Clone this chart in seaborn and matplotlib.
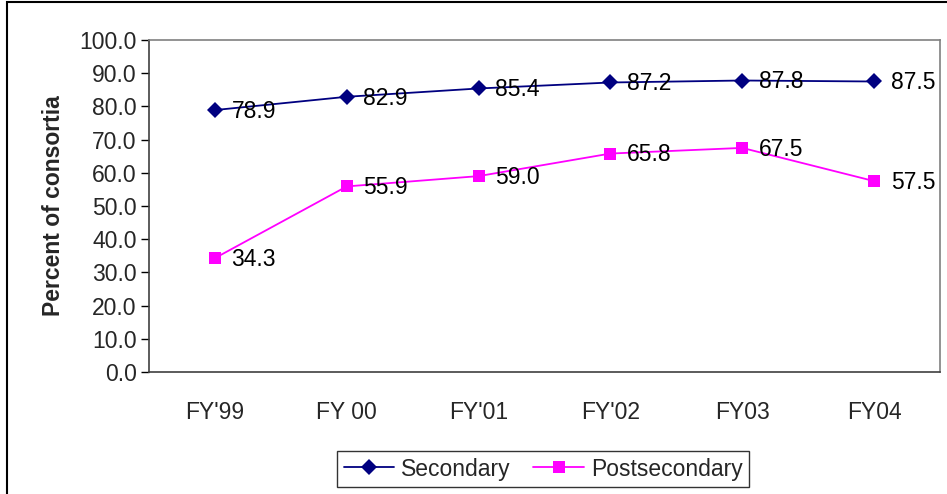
import matplotlib.pyplot as plt
import seaborn as sns
import pandas as pd
from matplotlib.patches import Rectangle

# datos
years = ["FY'99", "FY 00", "FY'01", "FY'02", "FY03", "FY04"]
secondary = [78.9, 82.9, 85.4, 87.2, 87.8, 87.5]
postsecondary = [34.3, 55.9, 59.0, 65.8, 67.5, 57.5]

sns.set_style("white")
plt.rcParams['font.family'] = ['Liberation Sans', 'DejaVu Sans']

df = pd.DataFrame({
    'year': years * 2,
    'pos': list(range(len(years))) * 2,
    'value': secondary + postsecondary,
    'serie': ['Secondary'] * len(years) + ['Postsecondary'] * len(years),
})

fig = plt.figure(figsize=(9.47, 4.94), dpi=100)
ax = fig.add_axes([149 / 947, 1 - 372 / 494, (940 - 149) / 947, (372 - 40) / 494])

colores = {'Secondary': '#000080', 'Postsecondary': '#FF00FF'}
marcas = {'Secondary': 'D', 'Postsecondary': 's'}
sns.lineplot(data=df, x='pos', y='value', hue='serie', style='serie',
             palette=colores, markers=marcas, dashes=False, ax=ax,
             linewidth=1.3, markersize=8, markeredgewidth=0, legend=False)

# etiquetas de valores
for serie, vals in [('Secondary', secondary), ('Postsecondary', postsecondary)]:
    for i, v in enumerate(vals):
        ax.annotate(f"{v:.1f}", (i, v), xytext=(12, -1), textcoords='offset points',
                    ha='left', va='center', fontsize=16.5, color='black')

ax.set_xlim(-0.5, len(years) - 0.5)
ax.set_ylim(0, 100)
ax.set_yticks(range(0, 101, 10))
ax.set_yticklabels([f"{t:.1f}" for t in range(0, 101, 10)], fontsize=16.5)
ax.set_xticks(range(len(years)))
ax.set_xticklabels(years, fontsize=16.5)
ax.tick_params(axis='x', length=0, pad=21)
ax.set_xticks([i - 0.5 for i in range(len(years) + 1)], minor=True)
ax.tick_params(axis='x', which='minor', length=7, width=1, color='black', direction='out')
ax.tick_params(axis='y', length=6, width=1, color='black', direction='out', left=True, pad=3)
ax.set_xlabel('')
ax.set_ylabel('Percent of consortia', fontsize=16.5, fontweight='bold', labelpad=10)

for lado in ['left', 'bottom']:
    ax.spines[lado].set_color('#404040')
    ax.spines[lado].set_linewidth(1.2)
for lado in ['top', 'right']:
    ax.spines[lado].set_color('#808080')
    ax.spines[lado].set_linewidth(1.2)

# leyenda
handles = [plt.Line2D([], [], color=colores[s], marker=marcas[s], markersize=8,
                      markeredgewidth=0, linewidth=1.3) for s in ['Secondary', 'Postsecondary']]
leg = fig.legend(handles, ['Secondary', 'Postsecondary'], ncol=2, fontsize=16.5,
                 loc='center', bbox_to_anchor=(543 / 947, 1 - 469 / 494),
                 frameon=True, fancybox=False, handlelength=2.2, handletextpad=0.3,
                 columnspacing=1.0, borderpad=0.3)
leg.get_frame().set_edgecolor('black')
leg.get_frame().set_linewidth(1)

# borde del gráfico
fig.patches.append(Rectangle((7 / 947, -0.1), 1.2, 1.1 - 2 / 494, transform=fig.transFigure,
                             fill=False, edgecolor='black', linewidth=1.5))

fig.savefig('out.png', dpi=100)
